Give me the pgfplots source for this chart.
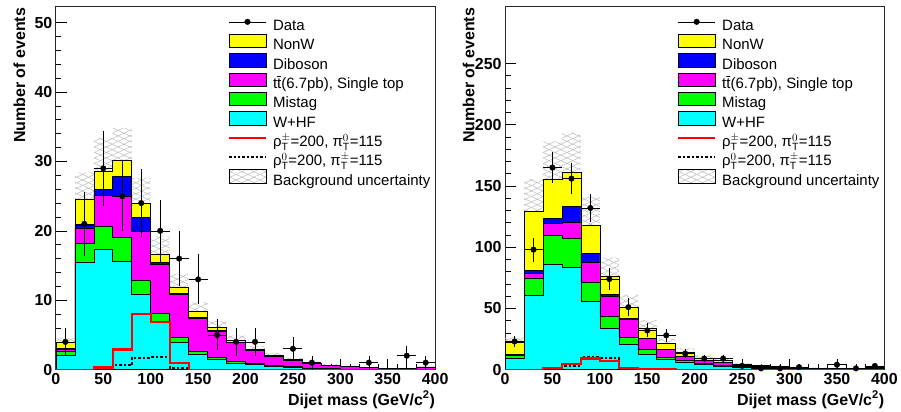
\documentclass[border=0pt]{standalone}
\usepackage{fontspec}
\setmainfont{Liberation Sans}
\usepackage{pgfplots}
\usepackage{pgfplotstable}
\pgfplotsset{compat=1.18}
\usepgfplotslibrary{fillbetween}
\usetikzlibrary{patterns.meta}

\definecolor{cNonW}{RGB}{255,255,0}
\definecolor{cDib}{RGB}{0,0,255}
\definecolor{cTop}{RGB}{255,0,255}
\definecolor{cMis}{RGB}{0,255,0}
\definecolor{cWhf}{RGB}{0,255,255}
\definecolor{cSig}{RGB}{255,0,0}

% left edge of each 20 GeV bin; last row repeats the last bin
\pgfplotstableread{
x   whf  mis  tt   dib  nonw sa  sb  lo   hi
0   2.0  0.65 0.25 0.1  0.9  0   0   3.3  4.5
20  15.5 2.7  2.1  0.5  3.8  0   0   20.9 28.4
40  17.4 3.2  4.5  0.9  2.6  0.3 0.1 24.0 33.4
60  15.6 3.4  6.0  2.8  2.3  2.9 0.6 25.4 34.8
80  10.9 2.0  7.0  2.1  1.9  8.0 1.7 20.2 27.6
100 6.8  1.3  7.1  0.3  1.1  6.9 1.8 14.0 19.2
120 3.9  0.8  6.1  0.2  0.9  0.9 0.3 10.0 13.8
140 2.2  0.5  4.7  0.2  0.8  0   0   7.1  9.7
160 1.5  0.3  3.7  0.1  0.5  0   0   5.2  7.0
180 0.9  0.35 2.65 0.1  0.25 0   0   3.6  4.9
200 0.7  0.17 1.9  0.05 0.13 0   0   2.5  3.4
220 0.5  0.15 1.3  0.05 0.1  0   0   1.8  2.4
240 0.35 0.1  0.9  0.03 0.07 0   0   1.2  1.7
260 0.2  0.05 0.6  0.03 0.07 0   0   0.8  1.1
280 0.1  0.03 0.45 0.02 0.05 0   0   0.55 0.75
300 0.07 0.02 0.32 0.01 0.03 0   0   0.38 0.52
320 0.04 0.01 0.22 0.01 0.02 0   0   0.25 0.35
340 0.03 0.01 0.14 0.01 0.01 0   0   0.17 0.23
360 0.02 0.01 0.1  0.01 0.01 0   0   0.13 0.17
380 0.05 0.02 0.3  0.01 0.02 0   0   0.34 0.46
400 0.05 0.02 0.3  0.01 0.02 0   0   0.34 0.46
}\histL

\pgfplotstableread{
x   y   ex  ey
10  4   10  2
30  21  10  4.58
50  29  10  5.39
70  25  10  5
90  24  10  4.9
110 20  10  4.47
130 16  10  4
150 13  10  3.61
170 5   10  2.24
190 4   10  2
210 4   10  2
250 3   10  1.73
270 1   10  1
330 1   10  1
370 2   10  1.41
390 1   10  1
}\dataL

\pgfplotstableread{
x   whf  mis  tt   dib  nonw sa  sb   lo    hi
0   9.3  2.3  0.3  0.2  10.0 0   0    17.7  26.5
20  61   13.5 4.5  2.5  48   0   0    103.6 155.4
40  85.7 24   9.5  4    32   1.0 0.5  124.2 186.2
60  83.2 24   13   12.8 28.3 4.3 3.0  129.0 193.6
80  55.8 15.7 15.8 7.9  22.6 9.0 10.0 94.2  141.4
100 33.4 10.1 16.6 1.1  15   7.3 9.8  61.0  91.4
120 20.4 6.2  14.2 0.8  9.5  1.3 1.6  40.9  61.3
140 12.2 4.1  9.0  0.5  7.7  0.5 0.6  26.8  40.2
160 8.2  2.1  6.0  0.3  4.6  0.2 0.2  17.0  25.4
180 6.2  1.4  3.3  0.2  3.3  0   0    11.5  17.3
200 4.3  0.8  2.5  0.1  1.8  0   0    7.6   11.4
220 2.9  0.6  2.2  0.1  1.5  0   0    5.8   8.8
240 1.8  0.4  1.6  0.1  0.7  0   0    3.7   5.5
260 1.2  0.3  1.2  0.05 0.55 0   0    2.6   4.0
280 0.9  0.2  0.9  0.05 0.35 0   0    1.9   2.9
300 0.6  0.15 0.7  0.03 0.3  0   0    1.4   2.1
320 0.45 0.1  0.5  0.02 0.23 0   0    1.0   1.6
340 0.35 0.08 0.4  0.02 0.15 0   0    0.8   1.2
360 0.25 0.05 0.35 0.02 0.13 0   0    0.6   1.0
380 0.9  0.2  1.0  0.05 0.6  0   0    2.2   3.3
400 0.9  0.2  1.0  0.05 0.6  0   0    2.2   3.3
}\histR

\pgfplotstableread{
x   y   ex  ey
10  23  10  4.8
30  98  10  9.9
50  165 10  12.8
70  156 10  12.5
90  132 10  11.5
110 74  10  8.6
130 51  10  7.1
150 32  10  5.7
170 28  10  5.3
190 13  10  3.6
210 9   10  3
230 9   10  3
250 3   10  1.7
270 1   10  1
290 1   10  1
310 2   10  1.4
350 4   10  2
370 1   10  1
390 3   10  1.7
}\dataR

\newcommand{\labfont}{\fontsize{16}{18}\selectfont\bfseries}

\pgfplotsset{
  panel/.style={
    scale only axis, width=380pt, height=364.3pt, anchor=south west,
    xmin=0, xmax=400, ymin=0,
    xtick={0,50,...,400}, minor x tick num=4, minor y tick num=4,
    tick pos=left, tick align=inside,
    major tick length=11pt, minor tick length=5.5pt,
    every tick/.style={black, line width=0.6pt},
    axis line style={black!85, line width=0.8pt},
    /pgf/number format/assume math mode=true,
    ticklabel style={font=\fontsize{16}{18}\selectfont},
    xticklabel={\textbf{\pgfmathprintnumber[assume math mode=true]{\tick}}},
    yticklabel={\textbf{\pgfmathprintnumber[assume math mode=true]{\tick}}},
    xlabel={Dijet mass (GeV/c\textsuperscript{2})},
    ylabel={Number of events},
    xlabel style={at={(axis description cs:1,-0.098)}, anchor=base east, inner sep=0pt,
      font=\labfont},
    ylabel style={at={(axis description cs:-0.08,0.995)}, anchor=south east, inner sep=0pt,
      font=\labfont},
    legend style={at={(rel axis cs:0.453,0.968)}, anchor=north west, draw=none, fill=none,
      font=\fontsize{15}{17}\selectfont, row sep=-1pt, column sep=5pt, inner sep=0pt,
      nodes={inner sep=1pt, text height=11.5pt, text depth=3.5pt}},
    legend cell align=left,
  },
  hist/.style={const plot, draw=black, line width=0.6pt, stack plots=y, forget plot},
  band/.style={forget plot, draw=none, const plot},
  datapts/.style={only marks, mark=*, mark size=2.8pt, black, forget plot,
    error bars/.cd, x dir=both, x explicit, y dir=both, y explicit,
    error mark=none, error bar style={black, line width=0.6pt}},
  boxleg/.style={legend image code/.code={\draw[##1] (0pt,-2pt) rectangle (37pt,11.5pt);}},
  redleg/.style={legend image code/.code={\path[draw=none, fill=none] (0pt,-2.4pt) rectangle (37pt,11.9pt);
    \draw[cSig, line width=2.2pt] (0pt,4.5pt) -- (37pt,4.5pt);}},
  dotleg/.style={legend image code/.code={\path[draw=none, fill=none] (0pt,-2.4pt) rectangle (37pt,11.9pt);
    \draw[black, line width=2pt, dash pattern=on 2.5pt off 2pt] (0pt,4.5pt) -- (37pt,4.5pt);}},
  dataleg/.style={legend image code/.code={\draw[black, line width=0.6pt] (0pt,4.5pt) -- (37pt,4.5pt);
    \fill[black] (18.5pt,4.5pt) circle (2.8pt);}},
  hatchleg/.style={legend image code/.code={
    \fill[pattern={Lines[angle=25,distance=5pt,line width=0.5pt]}, pattern color=gray!55] (0pt,-2pt) rectangle (37pt,11.5pt);
    \fill[pattern={Lines[angle=-25,distance=5pt,line width=0.5pt]}, pattern color=gray!55] (0pt,-2pt) rectangle (37pt,11.5pt);}},
  hatch1/.style={forget plot, pattern={Lines[angle=25,distance=5pt,line width=0.5pt]}, pattern color=gray!55},
  hatch2/.style={forget plot, pattern={Lines[angle=-25,distance=5pt,line width=0.5pt]}, pattern color=gray!55},
  sigA/.style={const plot, forget plot, color=cSig, line width=2.2pt},
  sigB/.style={const plot, forget plot, black, line width=2pt, dash pattern=on 2.5pt off 2pt},
}

\newcommand{\legendrows}{%
  \addlegendimage{dataleg}\addlegendentry{Data}
  \addlegendimage{boxleg, fill=cNonW, draw=black, line width=0.8pt}\addlegendentry{NonW}
  \addlegendimage{boxleg, fill=cDib, draw=black, line width=0.8pt}\addlegendentry{Diboson}
  \addlegendimage{boxleg, fill=cTop, draw=black, line width=0.8pt}\addlegendentry{t\={t}(6.7pb), Single top}
  \addlegendimage{boxleg, fill=cMis, draw=black, line width=0.8pt}\addlegendentry{Mistag}
  \addlegendimage{boxleg, fill=cWhf, draw=black, line width=0.8pt}\addlegendentry{W+HF}
  \addlegendimage{redleg}\addlegendentry{ρ$^{\pm}_{\mathrm{T}}$=200, π$^{0}_{\mathrm{T}}$=115}
  \addlegendimage{dotleg}\addlegendentry{ρ$^{0}_{\mathrm{T}}$=200, π$^{\pm}_{\mathrm{T}}$=115}
  \addlegendimage{hatchleg}\addlegendentry{Background uncertainty}
}

\begin{document}
\begin{tikzpicture}
\path (0,0) rectangle (901pt,412pt);

% ---- left panel ----
\begin{axis}[panel, at={(56pt,41.7pt)}, ymax=52.4, ytick={0,10,...,50}]
  \addplot[hist, fill=cWhf] table[x=x, y=whf] {\histL} \closedcycle;
  \addplot[hist, fill=cMis] table[x=x, y=mis] {\histL} \closedcycle;
  \addplot[hist, fill=cTop] table[x=x, y=tt] {\histL} \closedcycle;
  \addplot[hist, fill=cDib] table[x=x, y=dib] {\histL} \closedcycle;
  \addplot[hist, fill=cNonW] table[x=x, y=nonw] {\histL} \closedcycle;
  \addplot[band, name path=hiL] table[x=x, y=hi] {\histL};
  \addplot[band, name path=loL] table[x=x, y=lo] {\histL};
  \addplot[hatch1] fill between[of=hiL and loL];
  \addplot[hatch2] fill between[of=hiL and loL];
  \addplot[sigB] table[x=x, y=sb] {\histL};
  \addplot[sigA] table[x=x, y=sa] {\histL};
  \addplot[datapts] table[x=x, y=y, x error=ex, y error=ey] {\dataL};
  \legendrows
\end{axis}

% ---- right panel ----
\begin{axis}[panel, at={(506pt,41.7pt)}, ymax=297, ytick={0,50,...,250}]
  \addplot[hist, fill=cWhf] table[x=x, y=whf] {\histR} \closedcycle;
  \addplot[hist, fill=cMis] table[x=x, y=mis] {\histR} \closedcycle;
  \addplot[hist, fill=cTop] table[x=x, y=tt] {\histR} \closedcycle;
  \addplot[hist, fill=cDib] table[x=x, y=dib] {\histR} \closedcycle;
  \addplot[hist, fill=cNonW] table[x=x, y=nonw] {\histR} \closedcycle;
  \addplot[band, name path=hiR] table[x=x, y=hi] {\histR};
  \addplot[band, name path=loR] table[x=x, y=lo] {\histR};
  \addplot[hatch1] fill between[of=hiR and loR];
  \addplot[hatch2] fill between[of=hiR and loR];
  \addplot[sigB] table[x=x, y=sb] {\histR};
  \addplot[sigA] table[x=x, y=sa] {\histR};
  \addplot[datapts] table[x=x, y=y, x error=ex, y error=ey] {\dataR};
  \legendrows
\end{axis}
\end{tikzpicture}
\end{document}
